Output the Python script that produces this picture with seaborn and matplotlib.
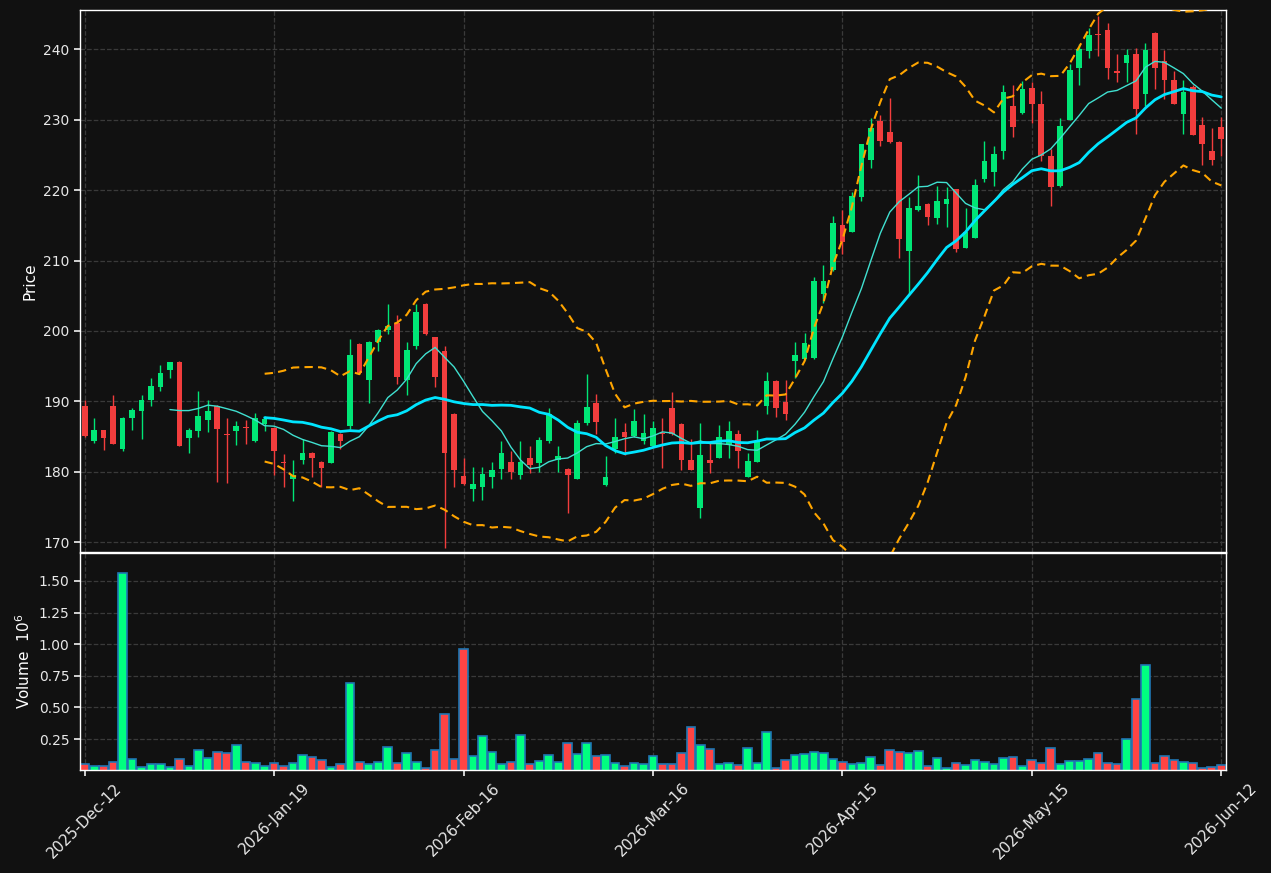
import numpy as np
import pandas as pd
import seaborn as sns
import matplotlib
matplotlib.use("Agg")
import matplotlib.pyplot as plt

# daily OHLC (one row per session)
opens = [189.4, 184.4, 185.9, 189.4, 183.3, 187.6, 188.7, 190.25, 192.1, 194.4,
         195.6, 184.85, 185.8, 187.3, 189.4, 185.4, 185.85, 186.35, 184.3, 186.8,
         186.2, 181.4, 179.0, 181.6, 182.7, 181.4, 181.3, 185.4, 186.5, 198.2,
         193.1, 198.4, 200.2, 201.2, 193.1, 197.8, 203.9, 199.1, 197.2, 188.2,
         179.4, 177.6, 177.9, 179.3, 180.45, 181.4, 179.6, 182.0, 181.2, 184.4,
         181.6, 180.4, 179.0, 186.9, 189.7, 178.1, 183.2, 185.65, 185.1, 184.3,
         183.6, 185.55, 189.1, 186.8, 181.7, 174.9, 181.7, 182.0, 183.8, 185.4,
         179.3, 181.45, 189.3, 192.9, 189.9, 195.7, 196.0, 196.1, 205.2, 208.6,
         215.0, 214.1, 219.1, 224.35, 229.8, 228.2, 226.9, 211.3, 217.2, 218.1,
         216.1, 218.0, 220.1, 211.85, 213.25, 221.65, 222.55, 225.5, 232.0, 230.9,
         234.45, 232.3, 224.9, 220.55, 229.95, 237.3, 239.7, 242.2, 242.8, 236.9,
         238.0, 239.4, 233.6, 242.3, 238.3, 235.7, 230.8, 234.7, 229.3, 225.5,
         229.0]
highs = [190.2, 187.6, 186.0, 190.9, 187.8, 189.0, 190.9, 193.3, 195.2, 195.6,
         195.8, 186.2, 191.45, 190.2, 189.5, 187.6, 187.2, 187.4, 188.3, 187.9,
         186.3, 182.5, 181.7, 184.6, 182.8, 181.5, 185.8, 185.5, 198.85, 198.3,
         198.6, 200.3, 203.8, 202.2, 198.5, 203.8, 204.0, 199.2, 197.8, 188.3,
         182.0, 180.7, 180.7, 181.4, 184.3, 183.0, 184.3, 183.6, 185.0, 189.0,
         183.7, 180.5, 187.3, 193.9, 191.0, 182.2, 187.6, 186.9, 188.9, 188.2,
         187.2, 187.6, 191.3, 186.9, 184.6, 186.9, 184.05, 186.65, 187.2, 185.9,
         182.7, 185.95, 194.2, 193.0, 193.1, 198.4, 199.7, 207.7, 209.3, 216.3,
         217.2, 219.7, 226.6, 230.3, 230.65, 233.1, 227.0, 219.0, 222.2, 218.2,
         220.65, 220.4, 220.2, 217.4, 221.65, 227.05, 226.25, 234.9, 235.0, 235.5,
         235.3, 234.1, 225.9, 230.3, 237.9, 240.7, 243.1, 244.7, 243.7, 239.4,
         240.1, 240.2, 240.85, 242.4, 239.9, 236.9, 235.6, 235.0, 230.4, 228.9,
         230.4]
lows = [185.0, 184.05, 183.1, 183.9, 182.9, 186.0, 184.6, 189.3, 191.4, 193.3,
        183.6, 182.6, 184.9, 185.6, 178.5, 178.4, 183.8, 183.9, 184.2, 185.85,
        179.55, 177.8, 175.9, 181.1, 179.2, 177.9, 181.2, 183.3, 186.1, 193.9,
        189.7, 197.1, 199.5, 192.45, 190.9, 197.5, 199.4, 192.0, 169.1, 177.8,
        178.1, 175.9, 176.0, 177.65, 178.9, 178.9, 178.9, 179.8, 180.0, 184.15,
        180.0, 174.1, 178.9, 186.7, 185.3, 178.0, 182.7, 182.4, 185.0, 184.0,
        183.5, 180.6, 185.2, 180.25, 180.2, 173.5, 179.8, 181.9, 181.9, 180.6,
        179.2, 181.35, 188.2, 187.75, 187.4, 193.3, 195.9, 196.0, 204.0, 208.5,
        211.0, 214.0, 218.5, 223.2, 226.25, 226.7, 210.3, 205.15, 217.1, 215.1,
        215.25, 214.7, 211.2, 211.8, 213.2, 221.2, 220.65, 224.45, 227.5, 230.8,
        229.6, 224.1, 217.7, 220.5, 229.9, 235.0, 238.8, 239.1, 235.8, 235.3,
        235.4, 228.0, 231.9, 234.3, 232.9, 232.2, 228.0, 227.8, 223.6, 223.6,
        224.9]
closes = [185.1, 185.9, 184.85, 184.0, 187.6, 188.8, 190.2, 192.2, 194.05, 195.6,
          183.7, 185.9, 187.9, 188.65, 186.1, 185.3, 186.5, 186.25, 187.6, 187.5,
          183.0, 181.3, 179.6, 182.7, 181.9, 180.6, 185.7, 184.4, 196.6, 194.0,
          198.5, 200.2, 200.7, 193.5, 197.3, 202.7, 199.6, 193.5, 182.6, 180.25,
          178.2, 178.3, 179.7, 180.3, 182.7, 179.9, 181.4, 181.0, 184.5, 188.2,
          182.2, 179.6, 186.9, 189.2, 187.1, 179.3, 184.95, 184.95, 187.2, 185.5,
          186.2, 185.3, 185.3, 181.6, 180.3, 182.4, 181.3, 184.95, 185.8, 183.0,
          181.5, 184.3, 192.9, 189.0, 188.2, 196.6, 198.3, 207.1, 207.1, 215.4,
          212.6, 219.2, 226.5, 228.8, 227.05, 226.8, 213.1, 217.4, 217.8, 216.25,
          218.4, 218.7, 211.7, 214.0, 220.7, 224.1, 225.2, 234.0, 228.95, 234.3,
          232.3, 224.8, 220.4, 229.1, 237.0, 240.1, 242.1, 242.0, 237.3, 236.6,
          239.15, 231.5, 239.9, 237.3, 235.6, 232.3, 233.9, 227.9, 226.5, 224.35,
          227.3]
# volume in millions
volumes = [0.052, 0.041, 0.041, 0.073, 1.565, 0.089, 0.033, 0.052, 0.052, 0.033,
           0.089, 0.041, 0.163, 0.100, 0.152, 0.140, 0.200, 0.073, 0.060, 0.041,
           0.060, 0.041, 0.060, 0.124, 0.108, 0.084, 0.033, 0.052, 0.695, 0.073,
           0.052, 0.073, 0.187, 0.060, 0.140, 0.073, 0.025, 0.163, 0.449, 0.090,
           0.964, 0.116, 0.274, 0.147, 0.052, 0.068, 0.282, 0.052, 0.076, 0.124,
           0.068, 0.219, 0.132, 0.219, 0.116, 0.124, 0.060, 0.036, 0.060, 0.052,
           0.116, 0.052, 0.052, 0.140, 0.346, 0.203, 0.171, 0.052, 0.060, 0.044,
           0.179, 0.060, 0.306, 0.020, 0.084, 0.124, 0.132, 0.147, 0.140, 0.090,
           0.068, 0.052, 0.060, 0.108, 0.044, 0.163, 0.147, 0.140, 0.158, 0.036,
           0.100, 0.020, 0.060, 0.044, 0.084, 0.068, 0.052, 0.100, 0.108, 0.036,
           0.084, 0.060, 0.179, 0.052, 0.076, 0.076, 0.090, 0.140, 0.060, 0.052,
           0.250, 0.568, 0.837, 0.060, 0.116, 0.084, 0.068, 0.060, 0.020, 0.028,
           0.044]
tick_labels = ["2025-Dec-12", "2026-Jan-19", "2026-Feb-16", "2026-Mar-16",
               "2026-Apr-15", "2026-May-15", "2026-Jun-12"]

df = pd.DataFrame({"open": opens, "high": highs, "low": lows,
                   "close": closes, "volume": volumes})
df["idx"] = np.arange(len(df))
df["dir"] = np.where(df["close"] >= df["open"], "up", "down")
df["ma10"] = df["close"].rolling(10).mean()
df["ma20"] = df["close"].rolling(20).mean()
sd = df["close"].rolling(20).std(ddof=0)
df["bb_up"] = df["ma20"] + 2 * sd
df["bb_lo"] = df["ma20"] - 2 * sd

BG = "#111111"
sns.set_theme(style="darkgrid", rc={
    "figure.facecolor": BG, "axes.facecolor": BG, "axes.edgecolor": "white",
    "axes.linewidth": 1.0, "grid.color": "#3a3a3a", "grid.linestyle": "--",
    "grid.linewidth": 0.9, "text.color": "white", "axes.labelcolor": "white",
    "xtick.color": "#e8e8e8", "ytick.color": "#e8e8e8",
    "xtick.bottom": True, "ytick.left": True,
})
plt.rcParams["font.family"] = ["DejaVu Sans"]

fig = plt.figure(figsize=(12.71, 8.73), dpi=100)
ax = fig.add_axes([0.0629, 0.3677, 0.9017, 0.6209])
axv = fig.add_axes([0.0629, 0.1180, 0.9017, 0.2486], sharex=ax)

candle_col = {"up": "#00e676", "down": "#f23d3d"}
cols = df["dir"].map(candle_col)

# wicks + bodies
ax.vlines(df["idx"], df["low"], df["high"], colors=cols, linewidth=1.0, zorder=2)
body = (df["close"] - df["open"]).where((df["close"] - df["open"]).abs() > 0.12,
                                        np.sign(df["close"] - df["open"] + 1e-9) * 0.12)
ax.bar(df["idx"], body, bottom=df["open"], width=0.6, color=cols, linewidth=0, zorder=3)

# moving averages and bands
sns.lineplot(data=df, x="idx", y="ma10", ax=ax, color="#40e0d0", linewidth=1.0, zorder=4)
sns.lineplot(data=df, x="idx", y="ma20", ax=ax, color="#00e5ff", linewidth=2.0, zorder=4)
for col in ["bb_up", "bb_lo"]:
    sns.lineplot(data=df, x="idx", y=col, ax=ax, color="#ffa500", linewidth=1.5,
                 linestyle=(0, (4, 2.5)), zorder=4)

ax.set_ylim(168.6, 245.6)
ax.set_ylabel("Price", fontsize=11)
ax.set_xlabel("")
ax.tick_params(axis="x", labelbottom=False, length=0)
ax.tick_params(axis="y", labelsize=10, length=4)

# volume panel
sns.barplot(data=df, x="idx", y="volume", hue="dir",
            palette={"up": "#00ff80", "down": "#ff4444"}, native_scale=True,
            dodge=False, width=0.92, edgecolor="#1f77b4", linewidth=1.2,
            saturation=1, errorbar=None, legend=False, ax=axv)
axv.set_ylim(0.3 * df["volume"].min(), 1.1 * df["volume"].max())
axv.set_yticks([0.25, 0.5, 0.75, 1.0, 1.25, 1.5])
axv.set_ylabel("Volume  $10^6$", fontsize=11)
axv.set_xlabel("")
axv.tick_params(axis="y", labelsize=10, length=4)

positions = list(range(0, len(df), 20))
axv.set_xticks(positions)
axv.set_xticklabels(tick_labels, rotation=45, fontsize=11)
axv.tick_params(axis="x", length=4)
axv.set_xlim(-0.5, len(df) - 0.5)

for a in (ax, axv):
    a.grid(True, which="major", axis="both")
    for s in a.spines.values():
        s.set_color("white")

fig.savefig("out.png", dpi=100, facecolor=BG)
